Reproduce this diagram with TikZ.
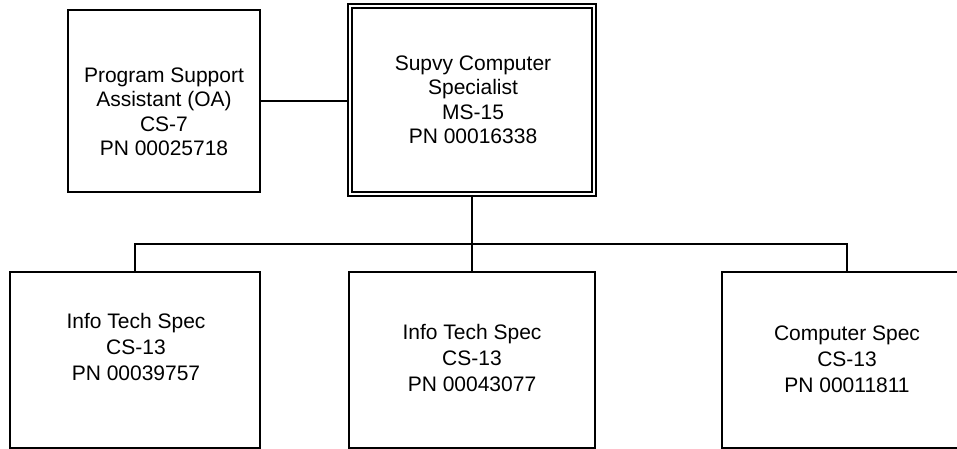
\documentclass[tikz,border=0pt]{standalone}
\usepackage{fontspec}
\setmainfont{Liberation Sans}
\begin{document}
\begin{tikzpicture}[x=1pt,y=-1pt,
  box/.style={draw, line width=1.9pt, rectangle, inner sep=0pt},
  lbl/.style={inner sep=0pt, align=center, font=\fontsize{21}{24.5}\selectfont},
  lblb/.style={inner sep=0pt, align=center, font=\fontsize{21}{26}\selectfont},
  link/.style={line width=1.5pt}]
\useasboundingbox (0,0) rectangle (957,449);
\clip (0,0) rectangle (957,449);

% top row
\node[box, minimum width=192pt, minimum height=182pt] (psa) at (164,101) {};
\node[box, double, double distance=2.3pt, line width=1.6pt,
      minimum width=244pt, minimum height=188pt] (sup) at (472,100) {};
\node[lbl] (psat) at (164,112) {Program Support\\Assistant (OA)\\CS-7\\PN 00025718};
\node[lbl] (supt) at (473,100) {Supvy Computer\\Specialist\\MS-15\\PN 00016338};

% bottom row
\node[box, minimum width=250pt, minimum height=176pt] (its1) at (135,360) {};
\node[box, minimum width=246pt, minimum height=176pt] (its2) at (472,360) {};
\node[box, minimum width=250pt, minimum height=176pt] (cs) at (847,360) {};
\node[lblb] (its1t) at (136,347) {Info Tech Spec\\CS-13\\PN 00039757};
\node[lblb] (its2t) at (472,358) {Info Tech Spec\\CS-13\\PN 00043077};
\node[lblb] (cst) at (847,359) {Computer Spec\\CS-13\\PN 00011811};

% connectors
\coordinate (bar) at (472,244);
\draw[link] (psa.east) -- (psa.east -| sup.west);
\draw[link] (sup.south) -- (bar);
\draw[link] (its1.north) -- (its1.north |- bar) -- (cs.north |- bar) -- (cs.north);
\draw[link] (bar) -- (its2.north);
\end{tikzpicture}
\end{document}
